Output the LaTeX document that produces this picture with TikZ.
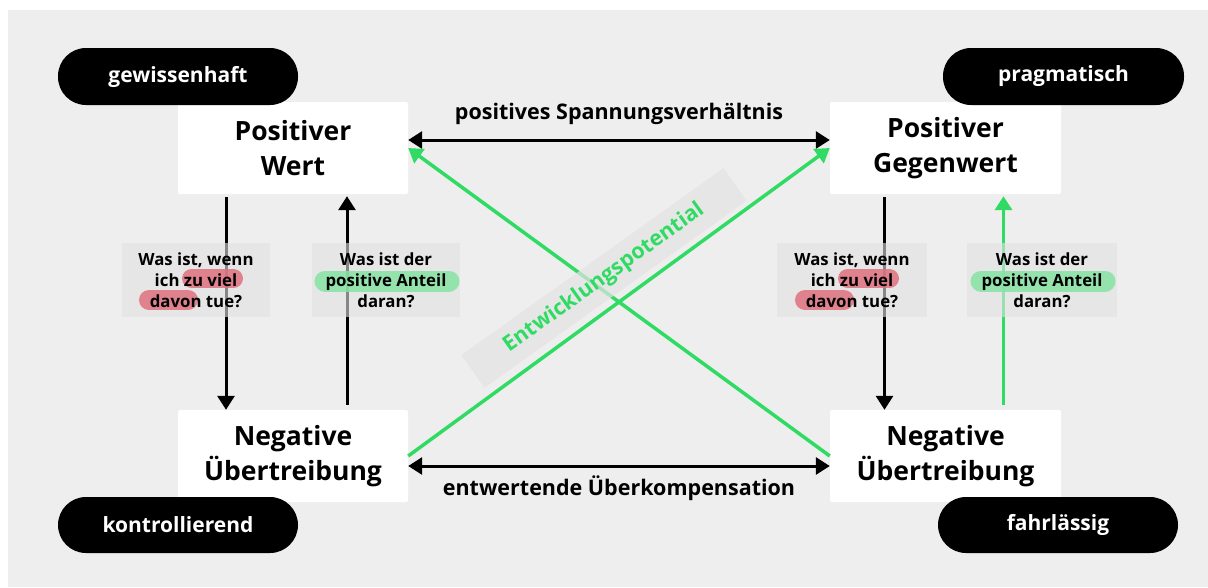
\documentclass[tikz,border=0pt]{standalone}
\usepackage{fontspec}
\setmainfont{Open Sans}
\usetikzlibrary{arrows.meta,calc}
\definecolor{bg}{HTML}{EEEEEE}
\definecolor{qbox}{HTML}{E2E2E2}
\definecolor{grn}{HTML}{2FDB63}
\definecolor{hred}{HTML}{E0707F}
\definecolor{hgrn}{HTML}{86E3A2}
\definecolor{band}{HTML}{E3E3E3}
\begin{document}
\begin{tikzpicture}[x=1pt,y=-1pt,
  mainbox/.style={fill=white, rounded corners=2pt, minimum width=230pt, minimum height=92pt, align=center, inner sep=0pt, font=\bfseries\fontsize{26.5}{35}\selectfont},
  pill/.style={fill=black, text=white, rounded corners=28pt, minimum width=240pt, minimum height=57pt, inner sep=0pt, font=\bfseries\fontsize{21}{24}\selectfont},
  qback/.style={fill=qbox, fill opacity=0.6, minimum width=148pt, minimum height=74pt, inner sep=0pt},
  qtext/.style={align=center, inner sep=0pt, font=\bfseries\fontsize{16.8}{21}\selectfont},
  lbl/.style={font=\bfseries\fontsize{21.5}{24}\selectfont, inner sep=0pt},
  hl/.style={line width=20pt, line cap=round, opacity=0.85},
  arr/.style={line width=3pt, -{Triangle[length=14pt,width=17pt]}},
  dbl/.style={line width=3pt, {Triangle[length=14pt,width=17pt]}-{Triangle[length=14pt,width=17pt]}},
  garr/.style={line width=3.5pt, draw=grn, -{Triangle[length=14pt,width=17pt]}}
]
\fill[white] (0,0) rectangle (1208,587);
\fill[bg] (8,10) rectangle (1208,587);
\useasboundingbox (0,0) rectangle (1208,587);

% main boxes
\node[mainbox] (PW) at (293,148) {Positiver\\Wert};
\node[mainbox, minimum width=231pt] (PG) at (945.5,148) {Positiver\\Gegenwert};
\node[mainbox] (NL) at (293,456) {Negative\\Übertreibung};
\node[mainbox, minimum width=231pt] (NR) at (945.5,456) {Negative\\Übertreibung};

% pills
\node[pill] (gw) at (178,76.5) {gewissenhaft};
\node[pill, minimum width=241pt] (pr) at (1063.5,76.5) {pragmatisch};
\node[pill, minimum height=56pt] (ko) at (178,525) {kontrollierend};
\node[pill, minimum height=56pt] (fa) at (1058,525) {fahrlässig};

% horizontal arrows
\draw[dbl] ([yshift=8pt]PW.east) -- node[lbl, midway, yshift=26pt] (top) {positives Spannungsverhältnis} ([yshift=8pt]PG.west);
\draw[dbl] ([yshift=-10pt]NL.east) -- node[lbl, midway, yshift=-22pt] (bot) {entwertende Überkompensation} ([yshift=-10pt]NR.west);

% vertical arrows
\draw[arr, shorten <=3pt] ([xshift=-67pt]PW.south) -- ([xshift=-67pt]NL.north);
\draw[arr, shorten <=5pt, shorten >=2pt] ([xshift=54pt]NL.north) -- ([xshift=54pt]PW.south);
\draw[arr, shorten <=3pt] ([xshift=-61pt]PG.south) -- ([xshift=-61pt]NR.north);
\draw[garr, shorten <=5pt, shorten >=2pt] ([xshift=58pt]NR.north) -- ([xshift=58pt]PG.south);

% green diagonals
\draw[garr] (NL.east) -- (PG.west);
\draw[garr] (NR.west) -- (PW.east);

% Entwicklungspotential band
\node[fill=band, fill opacity=0.7, text opacity=1, text=grn, rotate=35.5, minimum width=322pt, minimum height=40pt, inner sep=0pt, font=\bfseries\fontsize{21.5}{24}\selectfont] (ep) at (604,278) {Entwicklungspotential};

% question boxes
\node[qback] (Q1) at (196,280) {};
\node[qback] (Q2) at (386,280) {};
\node[qback, minimum width=150pt] (Q3) at (852,280) {};
\node[qback, minimum width=150pt] (Q4) at (1042,280) {};

% highlights
\draw[hl, hred, line width=19pt] ($(Q1)+(-4.5,-1.5)$) -- ($(Q1)+(37.5,-1.5)$);
\draw[hl, hred] ($(Q1)+(-47,20)$) -- ($(Q1)+(-8,20)$);
\draw[hl, hgrn, line width=21pt] ($(Q2)+(-61,1)$) -- ($(Q2)+(63,1)$);
\draw[hl, hred, line width=19pt] ($(Q3)+(-4.5,-1.5)$) -- ($(Q3)+(37.5,-1.5)$);
\draw[hl, hred] ($(Q3)+(-47,20)$) -- ($(Q3)+(-8,20)$);
\draw[hl, hgrn, line width=21pt] ($(Q4)+(-61,1)$) -- ($(Q4)+(63,1)$);

% question texts
\node[qtext] (Q1t) at (Q1) {Was ist, wenn\\ich zu viel\\davon tue?};
\node[qtext] (Q2t) at (Q2) {Was ist der\\positive Anteil\\daran?};
\node[qtext] (Q3t) at (Q3) {Was ist, wenn\\ich zu viel\\davon tue?};
\node[qtext] (Q4t) at (Q4) {Was ist der\\positive Anteil\\daran?};
\end{tikzpicture}
\end{document}
